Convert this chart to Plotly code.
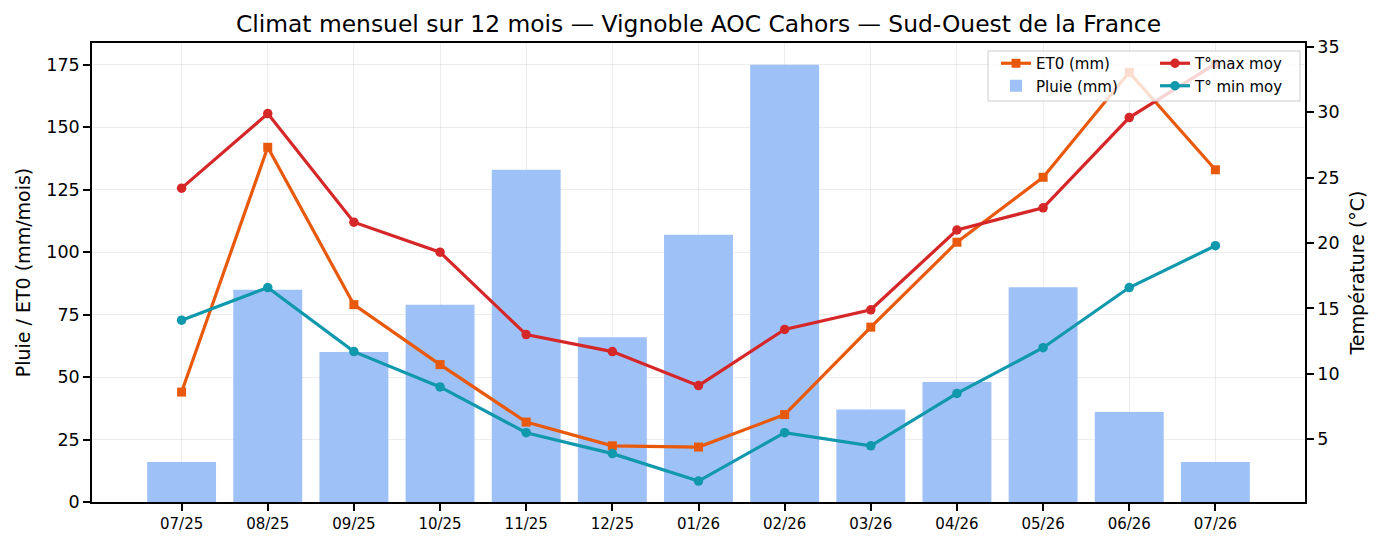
import plotly.graph_objects as go

months = ["07/25", "08/25", "09/25", "10/25", "11/25", "12/25", "01/26",
          "02/26", "03/26", "04/26", "05/26", "06/26", "07/26"]
pluie = [16, 85, 60, 79, 133, 66, 107, 175, 37, 48, 86, 36, 16]
et0 = [44, 142, 79, 55, 32, 22.5, 22, 35, 70, 104, 130, 172, 133]
tmax = [24.2, 29.9, 21.6, 19.3, 13.0, 11.7, 9.1, 13.4, 14.9, 21.0, 22.7, 29.6, 33.7]
tmin = [14.1, 16.6, 11.7, 9.0, 5.5, 3.9, 1.8, 5.5, 4.5, 8.5, 12.0, 16.6, 19.8]

FONT = "DejaVu Sans"
W, H = 1385, 546
L, R, T, B = 92, 80, 43, 44
PW, PH = W - L - R, H - T - B

def px_x(x):
    return (x - L) / PW

def px_y(y):
    return (H - B - y) / PH

fig = go.Figure()
fig.add_trace(go.Bar(x=months, y=pluie, name="Pluie (mm)",
                     marker=dict(color="rgb(158,193,247)", line=dict(width=0)),
                     yaxis="y", legend="legend", legendrank=2))
fig.add_trace(go.Scatter(x=months, y=et0, name="ET0 (mm)", mode="lines+markers",
                         line=dict(color="#e8590c", width=3.2),
                         marker=dict(symbol="square", size=9, color="#e8590c"),
                         yaxis="y", legend="legend", legendrank=1))
fig.add_trace(go.Scatter(x=months, y=tmax, name="T°max moy", mode="lines+markers",
                         line=dict(color="#d62728", width=3.2),
                         marker=dict(symbol="circle", size=9.5, color="#d62728"),
                         yaxis="y2", legend="legend2", legendrank=1))
fig.add_trace(go.Scatter(x=months, y=tmin, name="T° min moy", mode="lines+markers",
                         line=dict(color="#1098ad", width=3.2),
                         marker=dict(symbol="circle", size=9.5, color="#1098ad"),
                         yaxis="y2", legend="legend2", legendrank=2))

axis_common = dict(showline=True, linecolor="black", linewidth=1.5,
                   ticks="outside", ticklen=7, tickwidth=1.5, tickcolor="black",
                   zeroline=False)

fig.update_layout(
    width=W, height=H,
    margin=dict(l=L, r=R, t=T, b=B),
    paper_bgcolor="white", plot_bgcolor="white",
    font=dict(family=FONT, color="black", size=17),
    title=dict(text="Climat mensuel sur 12 mois — Vignoble AOC Cahors — Sud-Ouest de la France",
               x=px_x((L + W - R) / 2), xanchor="center", xref="paper",
               y=1 - 24 / H, yanchor="middle", yref="container",
               font=dict(family=FONT, size=23.4, color="black")),
    bargap=0.2,
    xaxis=dict(type="category", range=[-1.04, 12 + 1.04], mirror=True,
               showgrid=True, gridcolor="rgba(0,0,0,0.07)", gridwidth=1,
               tickfont=dict(size=15), **axis_common),
    yaxis=dict(range=[0, 183.75], tickvals=[0, 25, 50, 75, 100, 125, 150, 175],
               showgrid=True, gridcolor="rgba(0,0,0,0.07)", gridwidth=1,
               title=dict(text="Pluie / ET0 (mm/mois)", font=dict(size=19), standoff=11),
               tickfont=dict(size=17.5), **axis_common),
    yaxis2=dict(range=[0.2, 35.3], tickvals=[5, 10, 15, 20, 25, 30, 35],
                overlaying="y", side="right", showgrid=False,
                title=dict(text="Température (°C)", font=dict(size=19), standoff=12),
                tickfont=dict(size=17.5), **axis_common),
    legend=dict(x=px_x(996), y=px_y(47), xanchor="left", yanchor="top",
                bgcolor="rgba(0,0,0,0)", font=dict(size=15), tracegroupgap=0,
                traceorder="normal"),
    legend2=dict(x=px_x(1155), y=px_y(47), xanchor="left", yanchor="top",
                 bgcolor="rgba(0,0,0,0)", font=dict(size=15), tracegroupgap=0,
                 traceorder="normal"),
    shapes=[dict(type="rect", xref="paper", yref="paper",
                 x0=px_x(988), x1=px_x(1300), y0=px_y(101), y1=px_y(51),
                 fillcolor="rgba(255,255,255,0.8)", line=dict(color="#cccccc", width=1),
                 layer="above")],
    showlegend=True,
)

fig.write_html("out.html")
